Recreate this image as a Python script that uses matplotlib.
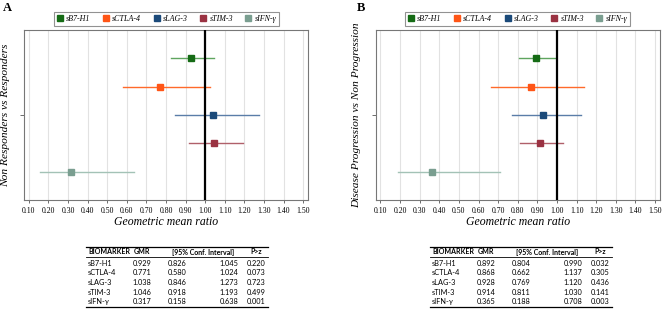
import numpy as np
import matplotlib.pyplot as plt
from matplotlib.lines import Line2D

markers = ['sB7-H1', 'sCTLA-4', 'sLAG-3', 'sTIM-3', 'sIFN-γ']
leg_names = ['sB7-H1', 'sCTLA-4', 'sLAG-3', 'sTIM-3', 'sIFN-γ']

gmr_a = [0.929, 0.771, 1.038, 1.046, 0.317]
lo_a = [0.826, 0.580, 0.846, 0.918, 0.158]
hi_a = [1.045, 1.024, 1.273, 1.193, 0.638]
p_a = ['0.220', '0.073', '0.723', '0.499', '0.001']

gmr_b = [0.892, 0.868, 0.928, 0.914, 0.365]
lo_b = [0.804, 0.662, 0.769, 0.811, 0.188]
hi_b = [0.990, 1.137, 1.120, 1.030, 0.708]
p_b = ['0.032', '0.305', '0.436', '0.141', '0.003']

mk_colors = ['#156b15', '#ff5516', '#1b4a7a', '#9a3242', '#7a9e90']
ln_colors = ['#5fa55f', '#ff6a2a', '#5a7da8', '#b0606a', '#a3c2b6']

W, H = 669, 312
fig = plt.figure(figsize=(6.69, 3.12), dpi=100)
serif = 'Liberation Serif'


def panel(left, right, gmr, lo, hi, ylab, letter, letter_x, leg_x0, leg_x1):
    ax = fig.add_axes([left / W, 1 - 200 / H, (right - left) / W, 170 / H])
    ypos = np.arange(1, 6)
    for i in range(5):
        ax.plot([lo[i], hi[i]], [ypos[i], ypos[i]], color=ln_colors[i], lw=1.0, zorder=3)
        ax.plot(gmr[i], ypos[i], 's', color=mk_colors[i], ms=4.2, zorder=4)
    ax.axvline(1.0, color='black', lw=1.6, zorder=5)
    ax.set_xlim(0.075, 1.525)
    ax.set_ylim(6, 0)
    ticks = np.round(np.arange(0.1, 1.51, 0.1), 2)
    ax.set_xticks(ticks)
    ax.set_xticklabels(['%.2f' % t for t in ticks], fontsize=5.6, family=serif)
    ax.set_yticks([3])
    ax.set_yticklabels([''])
    ax.tick_params(axis='x', length=2.5, width=0.6, pad=2.5, color='#555555')
    ax.tick_params(axis='y', length=3, width=0.6, color='#555555')
    ax.grid(axis='x', color='#e2e2e2', lw=0.8, zorder=0)
    for s in ax.spines.values():
        s.set_color('#777777')
        s.set_linewidth(0.8)
    ax.set_xlabel('Geometric mean ratio', fontsize=8.5, family=serif, style='italic', labelpad=1)
    ax.set_ylabel(ylab, fontsize=8.2, family=serif, style='italic', labelpad=3.5)

    handles = [Line2D([], [], ls='none', marker='s', ms=4, color=mk_colors[i]) for i in range(5)]
    leg = fig.legend(handles, leg_names, loc='center',
                     bbox_to_anchor=((leg_x0 + leg_x1) / 2 / W, 1 - 19 / H),
                     ncol=5, frameon=True, fancybox=False, handlelength=0.8,
                     handletextpad=0.4, columnspacing=1.5, borderpad=0.35,
                     prop={'family': serif, 'style': 'italic', 'size': 5.8})
    leg.get_frame().set_edgecolor('#777777')
    leg.get_frame().set_linewidth(0.8)
    fig.text(letter_x / W, 1 - 8 / H, letter, fontsize=9, family=serif,
             weight='bold', ha='left', va='center')
    return ax


def table(x0, gmr, lo, hi, pv):
    fs = 5.3
    fh = 5.0
    f = 'Lato'
    cols = [x0 + 1, x0 + 55, x0 + 90, x0 + 142, x0 + 169]
    yh = 252
    fig.text(cols[0] / W, 1 - yh / H, 'BIOMARKER', fontsize=fh, family=f, weight='bold', va='center', ha='left')
    fig.text(cols[1] / W, 1 - yh / H, 'GMR', fontsize=fh, family=f, weight='bold', va='center', ha='center')
    fig.text((cols[2] + cols[3]) / 2 / W, 1 - yh / H, '[95% Conf. Interval]', fontsize=fh, family=f,
             weight='bold', va='center', ha='center')
    fig.text(cols[4] / W, 1 - yh / H, 'P>z', fontsize=fh, family=f, weight='bold', va='center', ha='center')
    for i in range(5):
        y = 1 - (263 + i * 9.7) / H
        fig.text(cols[0] / W, y, markers[i], fontsize=fs, family=f, va='center', ha='left')
        fig.text(cols[1] / W, y, '%.3f' % gmr[i], fontsize=fs, family=f, va='center', ha='center')
        fig.text(cols[2] / W, y, '%.3f' % lo[i], fontsize=fs, family=f, va='center', ha='center')
        fig.text(cols[3] / W, y, '%.3f' % hi[i], fontsize=fs, family=f, va='center', ha='center')
        fig.text(cols[4] / W, y, pv[i], fontsize=fs, family=f, va='center', ha='center')
    for yl, lw in [(247, 0.9), (257, 0.6), (307, 0.9)]:
        fig.add_artist(Line2D([(x0 - 1) / W, (x0 + 181) / W], [1 - yl / H, 1 - yl / H],
                              color='black', lw=lw))


panel(24, 308, gmr_a, lo_a, hi_a, 'Non Responders vs Responders', 'A', 3, 53, 280)
panel(375.5, 660, gmr_b, lo_b, hi_b, 'Disease Progression vs Non Progression', 'B', 357, 403, 632)
table(87, gmr_a, lo_a, hi_a, p_a)
table(431, gmr_b, lo_b, hi_b, p_b)

fig.savefig('out.png', dpi=100)
